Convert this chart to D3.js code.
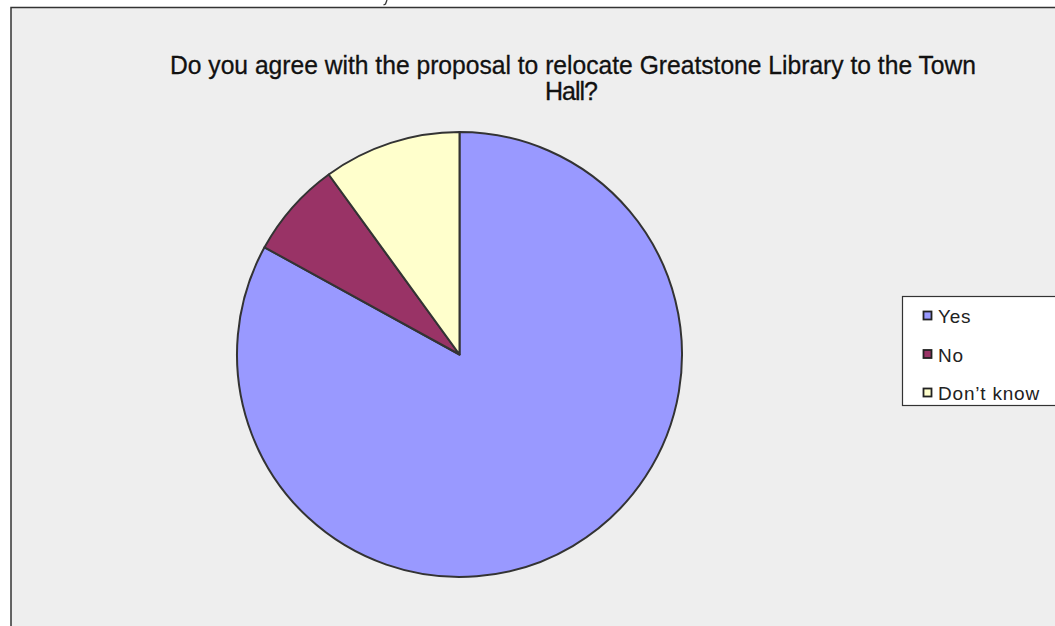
<!DOCTYPE html>
<html><head><meta charset="utf-8">
<script src="https://cdn.jsdelivr.net/npm/d3@7"></script>
<style>html,body{margin:0;padding:0;background:#fff;}svg{display:block;}</style>
</head><body>
<script>
const categories = ["Yes", "No", "Don\u2019t know"];
const values = [83, 7, 10];
const colors = ["#9999ff", "#993366", "#ffffcc"];
const titleLines = ["Do you agree with the proposal to relocate Greatstone Library to the Town", "Hall?"];

const W = 1055, H = 626;
const svg = d3.select("body").append("svg").attr("width", W).attr("height", H);

// small cropped stroke remnant above the chart frame
svg.append("path").attr("d", d3.line()([[387, 0], [385.5, 4], [383.5, 5]]))
  .attr("fill", "none").attr("stroke", "#333").attr("stroke-width", 1.3);

svg.append("rect").attr("x", 11).attr("y", 7.5).attr("width", W + 20).attr("height", H + 20)
  .attr("fill", "#eeeeee").attr("stroke", "#333").attr("stroke-width", 1.5);

const title = svg.append("text").attr("font-family", "Liberation Sans, Arial, sans-serif")
  .attr("font-size", 25).attr("fill", "#111").attr("text-anchor", "middle")
  .attr("stroke", "#111").attr("stroke-width", 0.3);
title.append("tspan").attr("x", 573).attr("y", 74).attr("textLength", 806)
  .attr("lengthAdjust", "spacingAndGlyphs").text(titleLines[0]);
title.append("tspan").attr("x", 571).attr("y", 100).attr("letter-spacing", -1).text(titleLines[1]);

const cx = 459.5, cy = 354.5, r = 222.5;
const pie = d3.pie().sort(null).value(d => d)(values);
const arc = d3.arc().innerRadius(0).outerRadius(r);
svg.append("g").attr("transform", `translate(${cx},${cy})`)
  .selectAll("path").data(pie).join("path")
  .attr("d", arc).attr("fill", (d, i) => colors[i])
  .attr("stroke", "#333").attr("stroke-width", 2).attr("stroke-linejoin", "round");

const lg = svg.append("g");
lg.append("rect").attr("x", 902.5).attr("y", 296.5).attr("width", 160).attr("height", 109)
  .attr("fill", "#fff").attr("stroke", "#333").attr("stroke-width", 1.2);
const y = d3.scalePoint().domain(categories).range([316, 393]);
categories.forEach((c, i) => {
  lg.append("rect").attr("x", 923.5).attr("y", y(c) - 4.5).attr("width", 8).attr("height", 8)
    .attr("fill", colors[i]).attr("stroke", "#222").attr("stroke-width", 1.8);
  lg.append("text").attr("x", 938).attr("y", y(c) + 7)
    .attr("font-family", "Liberation Sans, Arial, sans-serif").attr("font-size", 19)
    .attr("letter-spacing", 0.8).attr("fill", "#222").text(c);
});
</script>
</body></html>
